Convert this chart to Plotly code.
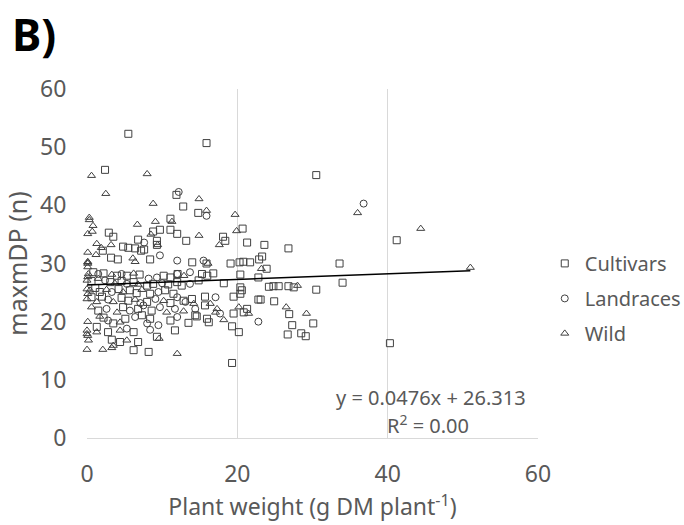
import plotly.graph_objects as go

# Cultivars (squares)
cult_x = [5.5, 15.9, 2.4, 11.9, 12.8, 14.8, 11.1, 8.8, 9.7, 11.1, 12.0, 18.1, 18.4, 20.7, 2.9, 3.5, 9.3, 9.3, 6.8, 13.2,
          21.3, 23.6, 4.8, 5.5, 2.1, 6.4, 7.6, 7.2, 3.2, 4.1, 8.4, 15.9, 14.0, 19.1, 20.3, 20.8, 21.7, 22.9, 23.3,
          0.84, 2.2, 4.0, 5.3, 7.0, 10.2, 11.1, 0.6, 3.1, 4.6, 6.2, 8.0, 8.8, 10.8, 12.0, 1.1, 1.7, 4.2, 5.7, 6.6,
          8.4, 10.4, 11.5, 0.6, 2.0, 4.6, 5.5, 8.0, 11.1, 1.5, 4.8, 6.8, 8.6, 2.2, 3.5, 5.1, 7.3, 8.4, 11.1, 1.3,
          2.8, 6.2, 9.3, 11.7, 3.3, 4.4, 6.2, 6.8, 8.2,
          12.05, 15.3, 16.0, 16.8, 20.4, 22.8, 12.6, 14.85, 18.2, 20.4, 20.6, 24.2, 12.85, 13.96, 15.7, 15.7, 19.5,
          20.4, 22.8, 14.4, 19.5, 21.3, 20.85, 15.96, 13.5, 14.6, 16.2, 19.3, 20.2, 19.3,
          26.8, 23.9, 33.6, 34.0, 24.8, 25.5, 26.8, 27.5, 30.5, 23.1, 24.9, 26.9, 30.1, 27.3, 26.7, 28.5, 29.1,
          30.5, 41.2, 40.3]
cult_y = [52.3, 50.7, 46.1, 41.8, 39.8, 38.7, 37.7, 35.5, 35.8, 35.8, 35.1, 34.6, 33.9, 36.0, 35.3, 34.6, 33.9, 33.2, 34.1, 33.9,
          33.6, 33.2, 32.9, 32.7, 32.2, 32.6, 32.4, 32.2, 31.0, 30.7, 30.7, 30.0, 30.2, 30.0, 30.2, 30.3, 30.2, 30.7, 31.2,
          28.5, 28.3, 27.9, 27.9, 28.1, 27.9, 27.6, 27.0, 26.8, 27.0, 26.8, 26.2, 26.5, 26.4, 26.8, 25.8, 25.1, 25.6, 25.4, 24.9,
          24.8, 25.4, 24.8, 24.2, 24.3, 24.1, 23.6, 23.4, 23.2, 21.9, 22.5, 22.2, 21.9, 20.7, 19.7, 20.5, 21.1, 20.5, 20.2, 19.1,
          18.2, 18.2, 17.4, 18.5, 16.9, 16.5, 15.1, 16.5, 14.8,
          28.2, 28.2, 27.9, 28.3, 28.1, 27.6, 26.2, 27.1, 26.6, 25.9, 25.4, 26.0, 23.6, 23.9, 24.3, 22.8, 24.3,
          24.8, 23.8, 21.1, 21.4, 22.2, 21.6, 20.5, 19.8, 20.9, 19.9, 19.2, 18.2, 12.9,
          32.6, 29.1, 30.0, 26.7, 26.1, 26.1, 26.1, 25.9, 25.5, 23.8, 23.5, 21.3, 19.7, 19.4, 17.8, 18.0, 17.5,
          45.2, 34.0, 16.3]

# Landraces (circles)
land_x = [12.2, 15.9, 7.6, 9.7, 12.0, 15.5, 1.5, 4.6, 8.2, 9.3, 12.0, 2.4, 5.3, 10.0, 3.3, 9.5, 2.8, 7.1, 9.1,
          12.0, 2.6, 5.7, 7.5, 9.7, 11.7, 2.8, 6.4, 8.0, 9.5, 12.0, 5.3, 8.4, 13.7, 13.7, 17.1, 13.1, 14.4, 17.7,
          22.8, 36.8]
land_y = [42.3, 38.2, 33.6, 31.4, 30.5, 30.5, 28.2, 28.2, 27.4, 27.6, 28.2, 27.1, 26.5, 26.6, 25.1, 25.1, 23.8, 23.2, 23.9,
          24.2, 22.2, 21.9, 22.8, 22.5, 22.2, 20.2, 20.8, 19.7, 19.4, 20.8, 18.8, 18.6, 28.5, 26.5, 24.2, 23.4, 22.2, 21.4,
          20.0, 40.3]

# Wild (triangles)
wild_x = [0.6, 8.0, 2.5, 14.9, 8.8, 15.9, 19.7, 0.3, 0.3, 0.8, 0.7, 0.1, 11.3, 9.1, 6.7, 8.5, 14.9, 19.9, 1.3, 3.2,
          9.4, 17.6, 1.9, 0.1, 1.2, 6.1, 6.4, 16.1, 0.1, 0.1, 0.1,
          0.18, 3.3, 6.2, 0.0, 1.5, 3.7, 6.8, 0.0, 0.4, 2.6, 4.8, 7.3, 0.0, 1.3, 3.5, 6.4, 10.2, 0.6, 4.0, 10.6,
          1.7, 4.4, 0.0, 0.0, 0.2, 1.3, 4.4, 9.6, 0.0, 2.1, 3.3, 3.5, 5.3, 12.0,
          0.1, 0.1, 0.1, 0.1, 0.1,
          12.9, 14.2, 16.4, 17.3, 12.85, 17.1, 18.2, 20.2, 21.5,
          23.2, 28.0, 26.5, 29.2, 36.0, 44.4, 51.0]
wild_y = [45.1, 45.4, 42.0, 41.1, 40.3, 39.1, 38.4, 37.9, 37.5, 36.5, 35.5, 35.1, 37.2, 37.2, 36.7, 35.0, 34.8, 35.6, 33.4, 33.2,
          33.2, 33.2, 32.7, 31.9, 31.5, 30.9, 30.3, 30.0, 30.3, 30.2, 30.0,
          28.2, 28.1, 28.3, 27.1, 27.4, 26.6, 26.4, 25.6, 25.4, 25.5, 25.1, 25.5, 23.9, 23.4, 23.4, 23.8, 23.6, 22.5, 21.6, 21.6,
          20.9, 19.9, 18.5, 17.9, 16.8, 18.2, 18.5, 17.1, 15.2, 15.2, 15.5, 15.9, 16.8, 14.5,
          29.4, 27.7, 24.8, 20.0, 17.6,
          27.9, 23.1, 23.1, 22.2, 21.8, 21.6, 20.3, 22.5, 21.4,
          29.1, 26.2, 22.5, 21.4, 38.7, 36.0, 29.3]

slope = 0.0476
intercept = 26.313

all_x = cult_x + land_x + wild_x
x0, x1 = min(all_x), max(all_x)

txt_col = "#595959"
mk_col = "#404040"
font = "Noto Sans"

fig = go.Figure()
for name, xs, ys, sym in [("Cultivars", cult_x, cult_y, "square-open"),
                          ("Landraces", land_x, land_y, "circle-open"),
                          ("Wild", wild_x, wild_y, "triangle-up-open")]:
    fig.add_trace(go.Scatter(x=xs, y=ys, mode="markers", name=name, legendgroup=name, cliponaxis=False,
                             marker=dict(symbol=sym, size=7, color=mk_col, line=dict(width=1, color=mk_col))))

fig.add_trace(go.Scatter(x=[x0, x1], y=[slope * x0 + intercept, slope * x1 + intercept], mode="lines",
                         line=dict(color="black", width=1.5), showlegend=False, hoverinfo="skip"))

fig.add_annotation(text="y = 0.0476x + 26.313", x=45.8, y=7.0, xref="x", yref="y", xanchor="center", yanchor="middle",
                   showarrow=False, font=dict(family=font, size=20, color=txt_col))
fig.add_annotation(text="R<sup>2</sup> = 0.00", x=45.3, y=2.4, xref="x", yref="y", xanchor="center", yanchor="middle",
                   showarrow=False, font=dict(family=font, size=20, color=txt_col))
fig.add_annotation(text="<b>B)</b>", x=(10 - 87) / 451, y=1 + (89 - 34) / 349, xref="paper", yref="paper",
                   xanchor="left", yanchor="middle", showarrow=False,
                   font=dict(family=font, size=44, color="black"))

fig.update_layout(
    width=684, height=525,
    margin=dict(l=87, r=146, t=89, b=87, autoexpand=False),
    paper_bgcolor="white", plot_bgcolor="white",
    font=dict(family=font, color=txt_col),
    legend=dict(x=1.015, y=0.40, xanchor="left", yanchor="middle", font=dict(size=20, color=txt_col),
                itemsizing="trace", tracegroupgap=6, bgcolor="rgba(0,0,0,0)"),
    xaxis=dict(range=[0, 60], tickvals=[0, 20, 40, 60], showgrid=True, gridcolor="#d9d9d9", gridwidth=1,
               zeroline=False, showline=True, linecolor="#d9d9d9", ticks="outside", ticklen=15,
               tickcolor="rgba(0,0,0,0)", tickfont=dict(size=23, color=txt_col),
               title=dict(text="Plant weight (g DM plant<sup>-1</sup>)", font=dict(size=23, color=txt_col), standoff=5)),
    yaxis=dict(range=[0, 60], tickvals=[0, 10, 20, 30, 40, 50, 60], showgrid=False, zeroline=False,
               showline=False, ticks="outside", ticklen=15, tickcolor="rgba(0,0,0,0)",
               tickfont=dict(size=23, color=txt_col),
               title=dict(text="maxmDP (n)", font=dict(size=25, color=txt_col), standoff=6)),
)

fig.write_html("out.html")
